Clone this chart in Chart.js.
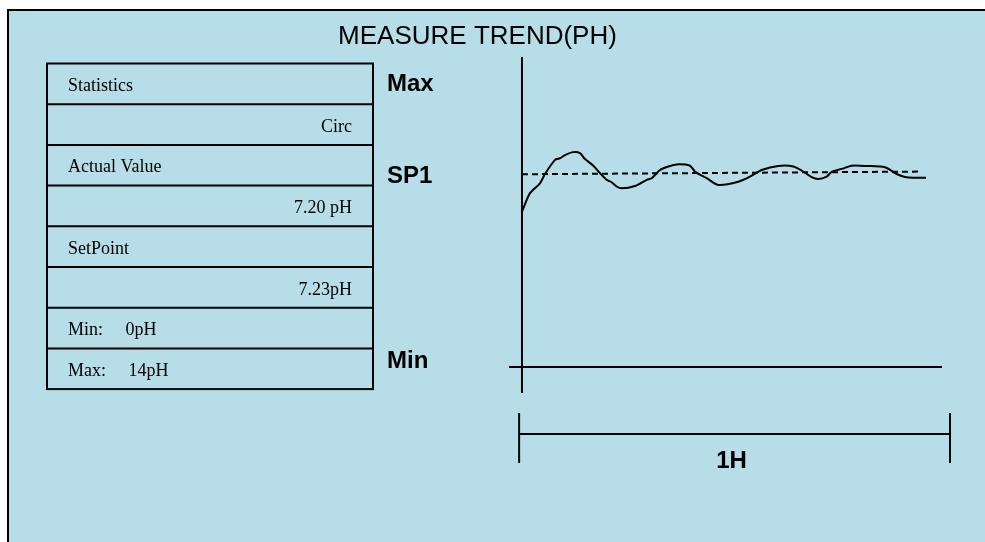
<!DOCTYPE html>
<html><head><meta charset="utf-8">
<script src="https://cdn.jsdelivr.net/npm/chart.js@4.4.1/dist/chart.umd.min.js"></script>
<style>
html,body{margin:0;padding:0;background:#fff;overflow:hidden;}
#frame{position:absolute;left:7px;top:9px;width:978px;height:533px;background:#B7DDE8;border-top:2px solid #000;border-left:2px solid #000;box-sizing:border-box;}
#wrap{position:absolute;left:0;top:0;width:985px;height:542px;}
</style></head><body>
<div id="frame"></div>
<div id="wrap"><canvas id="c" width="985" height="542"></canvas></div>
<script>
// ---- data ----
const chartTitle = 'MEASURE TREND(PH)';
const timeMin = [0, 1.12, 2.52, 3.22, 4.63, 5.33, 6.03, 7.20, 8.13, 8.83, 10.0, 10.94, 11.87, 12.57, 13.27, 13.97, 15.84, 17.48, 18.18, 19.35, 20.51, 21.68, 23.55, 24.25, 25.89, 27.52, 30.33, 31.96, 33.60, 35.94, 38.04, 39.44, 40.61, 41.54, 42.71, 43.41, 44.82, 46.22, 48.32, 50.89, 52.53, 53.69, 54.86, 56.64];
const phValues = [5.83, 6.52, 6.89, 7.24, 7.77, 7.83, 7.95, 8.06, 8.02, 7.80, 7.55, 7.27, 7.02, 6.93, 6.77, 6.70, 6.79, 7.02, 7.08, 7.39, 7.52, 7.60, 7.55, 7.33, 7.08, 6.83, 6.95, 7.14, 7.39, 7.54, 7.52, 7.33, 7.12, 7.05, 7.14, 7.32, 7.43, 7.55, 7.54, 7.49, 7.24, 7.13, 7.10, 7.10];
const setpointTime = [0, 56.04];
const setpointValues = [7.23, 7.33];
const xRange = [-1.82, 58.88];
const yRange = [-0.98, 11.63];
const axisLabels = ['Max', 'SP1', 'Min'];
const axisLabelValues = [10.66, 7.23, 0.29];
const scaleBarRange = [-0.4, 60];
const scaleBarLabel = '1H';
const tableLeftTexts = ['Statistics', '', 'Actual Value', '', 'SetPoint', '', 'Min:     0pH', 'Max:     14pH'];
const tableRightTexts = ['', 'Circ', '', '7.20 pH', '', '7.23pH', '', ''];

// ---- drawing ----
const SANS = '"Liberation Sans", Arial, sans-serif';
const SERIF = '"Liberation Serif", "Times New Roman", serif';

const decor = {
  id: 'decor',
  afterDraw(chart) {
    const { ctx, scales: { x, y }, chartArea: a } = chart;
    const line = (x1, y1, x2, y2) => { ctx.beginPath(); ctx.moveTo(x1, y1); ctx.lineTo(x2, y2); ctx.stroke(); };
    ctx.save();
    ctx.strokeStyle = '#000';
    ctx.fillStyle = '#000';
    ctx.lineWidth = 2;
    ctx.setLineDash([]);

    // axes
    const x0 = x.getPixelForValue(0), y0 = y.getPixelForValue(0);
    line(x0, a.top, x0, a.bottom);
    line(a.left, y0, a.right, y0);

    // title
    ctx.font = '26px ' + SANS;
    ctx.textAlign = 'center';
    ctx.textBaseline = 'alphabetic';
    ctx.fillText(chartTitle, 477.5, 44);

    // table
    const tL = 47, tR = 373, tT = 63.5, rowH = 40.7;
    const n = tableLeftTexts.length;
    ctx.strokeRect(tL, tT, tR - tL, rowH * n);
    for (let i = 1; i < n; i++) line(tL, tT + rowH * i, tR, tT + rowH * i);
    ctx.font = '18px ' + SERIF;
    for (let i = 0; i < n; i++) {
      const by = tT + rowH * i + 27.5;
      if (tableLeftTexts[i]) { ctx.textAlign = 'left'; ctx.fillText(tableLeftTexts[i], tL + 21, by); }
      if (tableRightTexts[i]) { ctx.textAlign = 'right'; ctx.fillText(tableRightTexts[i], tR - 21, by); }
    }

    // axis labels
    ctx.font = 'bold 24px ' + SANS;
    ctx.textAlign = 'left';
    axisLabels.forEach((t, i) => {
      ctx.fillText(t, tR + 14, y.getPixelForValue(axisLabelValues[i]) + 8.6);
    });

    // time scale bar
    const bx1 = x.getPixelForValue(scaleBarRange[0]);
    const bx2 = x.getPixelForValue(scaleBarRange[1]);
    const by = a.bottom + 41;
    line(bx1, by, bx2, by);
    line(bx1, by - 21, bx1, by + 29);
    line(bx2, by - 21, bx2, by + 29);
    ctx.textAlign = 'center';
    ctx.fillText(scaleBarLabel, (bx1 + bx2) / 2 - 3, 468);
    ctx.restore();
  }
};

new Chart(document.getElementById('c'), {
  type: 'line',
  data: {
    datasets: [
      {
        label: 'pH',
        data: timeMin.map((t, i) => ({ x: t, y: phValues[i] })),
        borderColor: '#000',
        borderWidth: 2,
        pointRadius: 0,
        tension: 0.25,
        fill: false
      },
      {
        label: 'SP1',
        data: setpointTime.map((t, i) => ({ x: t, y: setpointValues[i] })),
        borderColor: '#000',
        borderWidth: 2,
        borderDash: [6, 4],
        pointRadius: 0,
        fill: false
      }
    ]
  },
  options: {
    responsive: false,
    animation: false,
    devicePixelRatio: 1,
    layout: { padding: { left: 509, right: 43, top: 57, bottom: 149 } },
    plugins: { legend: { display: false }, tooltip: { enabled: false }, title: { display: false } },
    scales: {
      x: { type: 'linear', min: xRange[0], max: xRange[1], display: false },
      y: { type: 'linear', min: yRange[0], max: yRange[1], display: false }
    }
  },
  plugins: [decor]
});
</script>
</body></html>
